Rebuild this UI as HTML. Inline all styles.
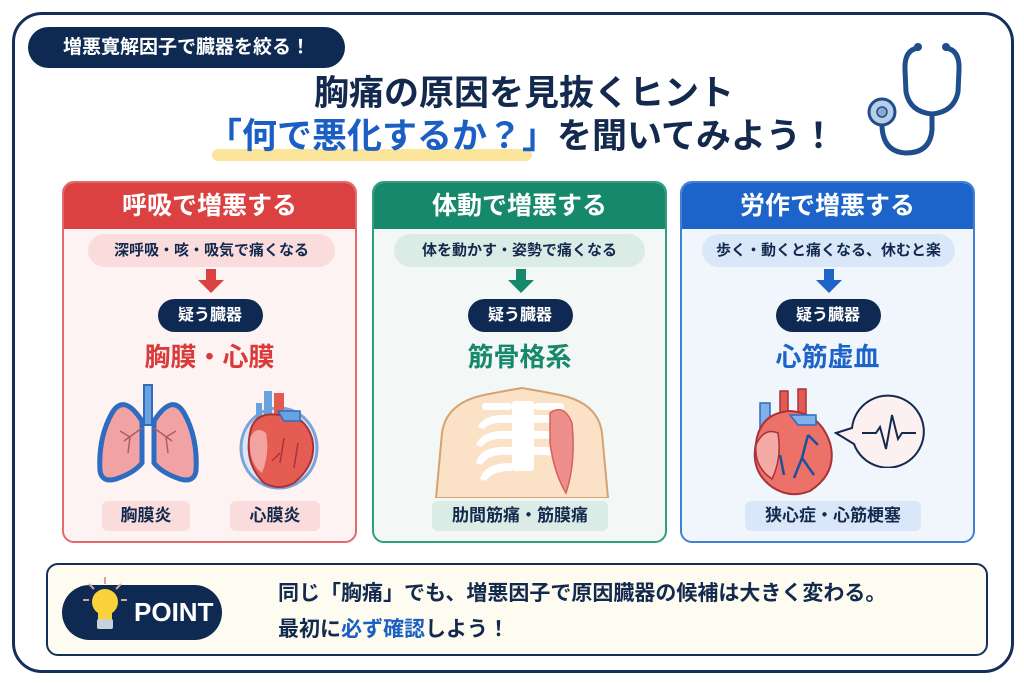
<!DOCTYPE html>
<html><head><meta charset="utf-8"><style>
*{margin:0;padding:0;box-sizing:border-box}
body{width:1024px;height:683px;background:#fff;position:relative;overflow:hidden;font-family:"Liberation Sans","Noto Sans CJK JP",sans-serif;font-weight:700;color:#132a4e}
.a{position:absolute}
.c{text-align:center}
.card{position:absolute;top:181px;width:295px;height:362px;border:2px solid;border-radius:12px;overflow:hidden}
.hd{height:46px;color:#fff;font-size:25px;line-height:46px;text-align:center}
.pl{position:absolute;height:33px;border-radius:17px;font-size:15px;line-height:33px;text-align:center;color:#132a4e}
.nv{position:absolute;width:105px;height:33px;border-radius:17px;background:#0f2a52;color:#fff;font-size:16px;line-height:33px;text-align:center;left:50%;margin-left:-52px;top:116px}
.big{position:absolute;left:0;right:0;top:157px;font-size:26px;text-align:center;line-height:34px}
.lb{position:absolute;height:30px;border-radius:6px;font-size:17px;line-height:30px;text-align:center;top:318px}
</style></head><body>
<div class="a" style="left:12px;top:12px;width:1002px;height:661px;border:3px solid #14305a;border-radius:30px"></div>
<div class="a c" style="left:28px;top:27px;width:317px;height:41px;border-radius:21px;background:#0f2a52;color:#fff;font-size:19px;line-height:41px">増悪寛解因子で臓器を絞る！</div>
<div class="a c" style="left:12px;width:1024px;top:72px;font-size:35px;line-height:44px;color:#132a4e">胸痛の原因を見抜くヒント</div>
<div class="a" style="left:212px;top:149px;width:320px;height:12px;border-radius:6px;background:#fbe59a"></div>
<div class="a" style="left:207px;top:114px;font-size:35px;line-height:46px;white-space:nowrap"><span style="color:#1b5fc4">「何で悪化するか？」</span>を聞いてみよう！</div>
<svg class="a" style="left:860px;top:35px" width="110" height="125" viewBox="860 35 110 125">
<g fill="none" stroke="#1f4e8c" stroke-width="5" stroke-linecap="round">
<path d="M918 48 Q904 50 905 70 L906 92 Q910 112 932 114 Q954 112 958 92 L959 70 Q960 50 946 48"/>
<path d="M932 114 L932 130 Q930 153 906 153 Q883 152 882 126"/>
</g>
<circle cx="918" cy="47" r="4" fill="#1f4e8c"/><circle cx="946" cy="47" r="4" fill="#1f4e8c"/>
<circle cx="882" cy="112" r="13" fill="#b9cde6" stroke="#1f4e8c" stroke-width="3"/>
<circle cx="882" cy="112" r="5" fill="#8aa9d0" stroke="#1f4e8c" stroke-width="1.5"/>
</svg>

<!-- card 1 -->
<div class="card" style="left:62px;border-color:#e26a6a;background:#fdf3f3">
<div class="hd" style="background:#db4141">呼吸で増悪する</div>
<div class="pl" style="left:24px;width:247px;top:51px;background:#fadcdc">深呼吸・咳・吸気で痛くなる</div>
<svg class="a" style="left:133px;top:86px" width="28" height="24"><path d="M9 0h10v11h8L14 24 1 11h8z" fill="#db4141"/></svg>
<div class="nv">疑う臓器</div>
<div class="big" style="color:#db3a3a">胸膜・心膜</div>
<svg class="a" style="left:30px;top:200px" width="110" height="105" viewBox="0 0 110 105">
<path d="M50 2h8v40h-8z" fill="#6aa2e0" stroke="#2d6cc0" stroke-width="2"/>
<path d="M48 38 Q30 10 18 30 Q4 55 6 88 Q8 100 22 96 Q40 90 48 80z" fill="#f1a3a3" stroke="#2d6cc0" stroke-width="5"/>
<path d="M60 38 Q78 10 90 30 Q104 55 102 88 Q100 100 86 96 Q68 90 60 80z" fill="#f1a3a3" stroke="#2d6cc0" stroke-width="5"/>
<path d="M48 45 L30 58 M36 54 L26 48 M36 54 L34 70 M60 45 L78 58 M72 54 L82 48 M72 54 L74 70" stroke="#b05a6a" stroke-width="1.5" fill="none"/>
</svg>
<svg class="a" style="left:170px;top:200px" width="90" height="110" viewBox="0 0 90 110">
<ellipse cx="45" cy="65" rx="38" ry="40" fill="#d9e6f5" stroke="#7aa3d8" stroke-width="3"/>
<path d="M30 8h8v30h-8zM22 20h6v26h-6z" fill="#6aa2e0"/>
<path d="M40 10h10v25H40z" fill="#e25a50"/>
<path d="M16 50 Q20 28 45 32 Q70 30 78 55 Q84 80 60 100 Q45 108 30 100 Q10 80 16 50z" fill="#e45c52" stroke="#a8333a" stroke-width="2"/>
<path d="M44 28h22v10H50z" fill="#6aa2e0" stroke="#2d6cc0" stroke-width="1.5"/>
<path d="M16 55 Q22 42 32 50 Q36 70 28 90 Q14 80 16 55z" fill="#f2a3a0"/>
<path d="M50 55 L46 80 M46 70 L38 78 M64 60 L60 85" stroke="#a8333a" stroke-width="1.5" fill="none"/>
</svg>
<div class="lb" style="left:38px;width:88px;background:#fadcdc">胸膜炎</div>
<div class="lb" style="left:166px;width:90px;background:#fadcdc">心膜炎</div>
</div>

<!-- card 2 -->
<div class="card" style="left:372px;border-color:#2f9e82;background:#f3f8f7">
<div class="hd" style="background:#17896b">体動で増悪する</div>
<div class="pl" style="left:20px;width:251px;top:51px;background:#dbece6">体を動かす・姿勢で痛くなる</div>
<svg class="a" style="left:133px;top:86px" width="28" height="24"><path d="M9 0h10v11h8L14 24 1 11h8z" fill="#17896b"/></svg>
<div class="nv">疑う臓器</div>
<div class="big" style="color:#17896b">筋骨格系</div>
<svg class="a" style="left:60px;top:200px" width="175" height="115" viewBox="0 0 175 115">
<path d="M2 115 L8 50 Q12 20 50 12 Q70 8 88 5 Q106 8 126 12 Q164 20 168 50 L174 115z" fill="#fbe1c6" stroke="#d4a373" stroke-width="2"/>
<g fill="#fff">
<rect x="78" y="18" width="22" height="70" rx="3"/>
<rect x="48" y="20" width="30" height="7" rx="3"/><rect x="100" y="20" width="30" height="7" rx="3"/>
<path d="M78 32 Q50 30 44 44 L50 46 Q56 38 78 40z M78 48 Q48 46 42 62 L48 64 Q54 54 78 56z M78 64 Q46 62 42 80 L48 82 Q54 70 78 72z M78 80 Q50 80 46 96 L52 98 Q58 88 78 88z"/>
<path d="M100 32 Q128 30 134 44 L128 46 Q122 38 100 40z M100 48 Q130 46 136 62 L130 64 Q124 54 100 56z M100 64 Q132 62 136 80 L130 82 Q124 70 100 72z"/>
</g>
<path d="M116 30 Q130 20 138 40 Q142 80 132 110 Q120 90 116 60z" fill="#ef8f8c" stroke="#d5605e" stroke-width="1.5"/>
</svg>
<div class="lb" style="left:58px;width:176px;background:#dbece6">肋間筋痛・筋膜痛</div>
</div>

<!-- card 3 -->
<div class="card" style="left:680px;border-color:#3f80d8;background:#f1f6fd">
<div class="hd" style="background:#1c64c9">労作で増悪する</div>
<div class="pl" style="left:20px;width:253px;top:51px;background:#d9e7f8">歩く・動くと痛くなる、休むと楽</div>
<svg class="a" style="left:133px;top:86px" width="28" height="24"><path d="M9 0h10v11h8L14 24 1 11h8z" fill="#1c64c9"/></svg>
<div class="nv">疑う臓器</div>
<div class="big" style="color:#1c64c9">心筋虚血</div>
<svg class="a" style="left:68px;top:200px" width="90" height="115" viewBox="0 0 90 115">
<path d="M10 20h10v40H10z" fill="#7fb0e8" stroke="#2d6cc0" stroke-width="1.5"/>
<path d="M30 8h8v25h-8zM48 6h8v25h-8z" fill="#e25a50" stroke="#a8333a" stroke-width="1.5"/>
<path d="M6 60 Q10 30 40 28 Q70 30 80 60 Q88 90 60 108 Q40 116 22 104 Q0 88 6 60z" fill="#ec7168" stroke="#a8333a" stroke-width="2"/>
<path d="M6 62 Q14 44 28 50 Q32 75 22 96 Q4 84 6 62z" fill="#f4aba6" stroke="#a8333a" stroke-width="1.5"/>
<path d="M40 32h26v10H48z" fill="#7fb0e8" stroke="#2d6cc0" stroke-width="1.5"/>
<path d="M58 52 L52 75 L44 95 M52 75 L64 92 M58 52 L68 62 M30 72 L34 92" stroke="#1f4fa0" stroke-width="2.5" fill="none"/>
</svg>
<svg class="a" style="left:150px;top:205px" width="95" height="80" viewBox="0 0 95 80">
<path d="M4 45 L20 40 A36 36 0 1 1 22 56z" fill="#fdf0f0" stroke="#132a4e" stroke-width="2"/>
<path d="M30 45h14l4-6 6 22 6-34 6 24 4-6h14" fill="none" stroke="#132a4e" stroke-width="2"/>
</svg>
<div class="lb" style="left:63px;width:176px;background:#d9e7f8">狭心症・心筋梗塞</div>
</div>

<!-- point -->
<div class="a" style="left:46px;top:563px;width:942px;height:93px;border:2px solid #14305a;border-radius:12px;background:#fefcf1"></div>
<div class="a" style="left:62px;top:585px;width:160px;height:55px;border-radius:28px;background:#0f2a52;color:#fff;font-size:26px;line-height:55px;padding-left:72px">POINT</div>
<svg class="a" style="left:80px;top:575px" width="50" height="60" viewBox="0 0 50 60">
<g stroke="#e0a0a0" stroke-width="2"><path d="M25 2v7M9 9l5 5M41 9l-5 5M3 25h6M41 25h6"/></g>
<circle cx="25" cy="27" r="13" fill="#fbd23a"/>
<rect x="18" y="36" width="14" height="8" fill="#fbd23a"/>
<rect x="17" y="44" width="16" height="10" rx="2" fill="#c9d2dc"/>
</svg>
<div class="a" style="left:278px;top:576px;font-size:21px;line-height:36px;white-space:nowrap">同じ「胸痛」でも、増悪因子で原因臓器の候補は大きく変わる。<br>最初に<span style="color:#1b5fc4">必ず確認</span>しよう！</div>
</body></html>
